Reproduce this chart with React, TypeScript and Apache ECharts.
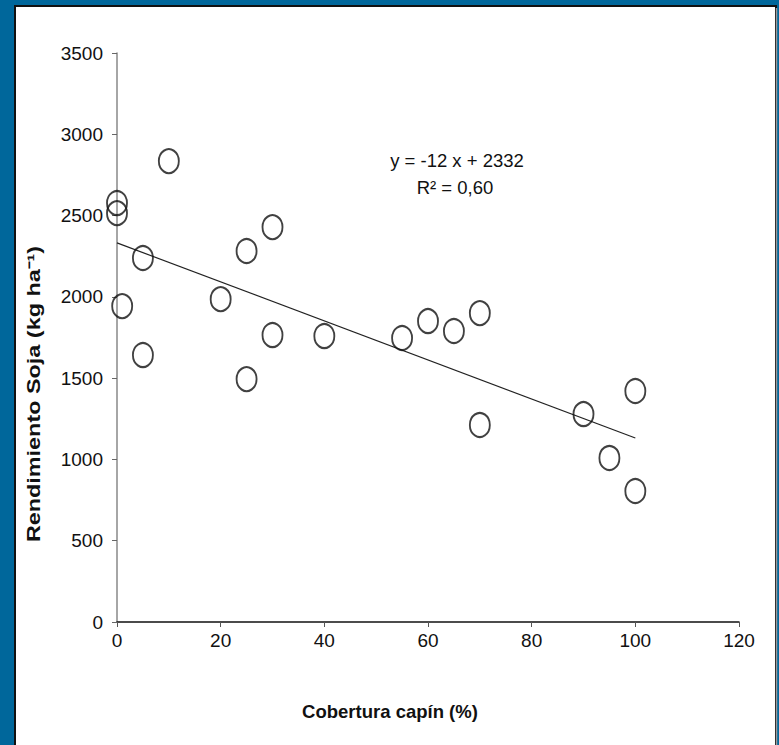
import React, { useEffect, useRef } from "react";
import * as echarts from "echarts";

const coverX = [0, 0, 1, 5, 5, 10, 20, 25, 25, 30, 30, 40, 55, 60, 65, 70, 70, 90, 95, 100, 100];
const yieldY = [2577, 2515, 1943, 2239, 1642, 2835, 1986, 2282, 1494, 2429, 1765, 1759, 1747, 1851, 1790, 1900, 1212, 1279, 1009, 1421, 806];
const slope = -12;
const intercept = 2332;
const trendX = [0, 100];
const equationText = "y = -12 x + 2332";
const r2Text = "R² = 0,60";
const xTitle = "Cobertura capín (%)";
const yTitle = "Rendimiento Soja (kg ha⁻¹)";

export default function App() {
  const ref = useRef<HTMLDivElement>(null);
  useEffect(() => {
    if (!ref.current) return;
    const chart = echarts.init(ref.current, null, { renderer: "svg" });
    const font = "'Liberation Sans', Arial, sans-serif";
    chart.setOption({
      animation: false,
      backgroundColor: "#00679b",
      graphic: [
        {
          type: "rect",
          shape: { x: 15, y: 6, width: 761, height: 745 },
          style: { fill: "#ffffff", stroke: "#111", lineWidth: 2 },
          z: -10,
        },
        {
          type: "line",
          shape: { x1: 776.5, y1: 8, x2: 776.5, y2: 745 },
          style: { stroke: "#999", lineWidth: 1.5 },
          z: -9,
        },
        {
          type: "text",
          x: 34,
          y: 394,
          rotation: Math.PI / 2,
          scaleX: 1.3,
          style: {
            text: yTitle,
            font: "bold 18px " + font,
            fill: "#111",
            align: "center",
            verticalAlign: "middle",
          },
        },
        {
          type: "text",
          x: 390,
          y: 711,
          style: {
            text: xTitle,
            font: "bold 18.5px " + font,
            fill: "#111",
            align: "center",
            verticalAlign: "middle",
          },
        },
        {
          type: "text",
          x: 457,
          y: 160,
          style: {
            text: equationText,
            font: "18.5px " + font,
            fill: "#111",
            align: "center",
            verticalAlign: "middle",
          },
        },
        {
          type: "text",
          x: 455,
          y: 187,
          style: {
            text: r2Text,
            font: "18.5px " + font,
            fill: "#111",
            align: "center",
            verticalAlign: "middle",
          },
        },
      ],
      grid: { left: 117, right: 40, top: 53, bottom: 123, containLabel: false },
      xAxis: {
        type: "value",
        min: 0,
        max: 120,
        interval: 20,
        axisLine: { onZero: false, lineStyle: { color: "#111", width: 1.5 } },
        axisTick: { show: true, length: 5, inside: false, lineStyle: { color: "#555" } },
        splitLine: { show: false },
        axisLabel: {
          color: "#111",
          fontSize: 19,
          fontFamily: font,
          margin: 9,
          formatter: (v: number) => String(v),
        },
      },
      yAxis: {
        type: "value",
        min: 0,
        max: 3500,
        interval: 500,
        axisLine: { show: true, lineStyle: { color: "#888", width: 1.5 } },
        axisTick: { show: true, length: 5, lineStyle: { color: "#666" } },
        splitLine: { show: false },
        axisLabel: {
          color: "#111",
          fontSize: 19,
          fontFamily: font,
          margin: 14,
          formatter: (v: number) => String(v),
        },
      },
      series: [
        {
          type: "line",
          data: trendX.map((x) => [x, slope * x + intercept]),
          symbol: "none",
          lineStyle: { color: "#222", width: 1.2 },
          z: 2,
        },
        {
          type: "scatter",
          data: coverX.map((x, i) => [x, yieldY[i]]),
          symbol: "circle",
          symbolSize: [20, 24],
          itemStyle: { color: "rgba(255,255,255,0)", borderColor: "#111", borderWidth: 2 },
          z: 3,
        },
      ],
    });
    return () => chart.dispose();
  }, []);
  return (
    <div
      ref={ref}
      style={{ position: "fixed", left: 0, top: 0, width: 779, height: 745 }}
    />
  );
}
